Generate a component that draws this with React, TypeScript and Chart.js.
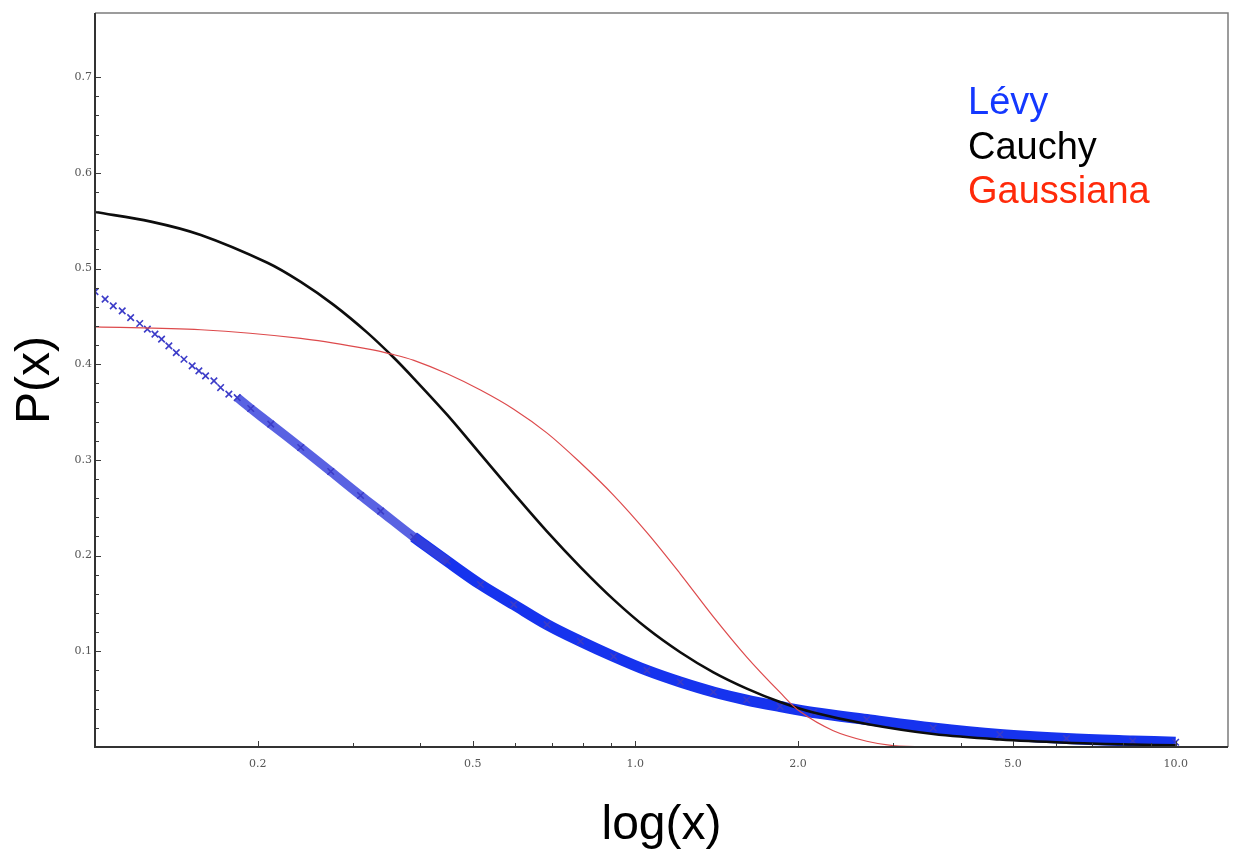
import React, { useEffect, useRef } from "react";
import { Chart, registerables } from "chart.js";

Chart.register(...registerables);

// Lévy (blue "x" markers)
const levyX = [
  0.1, 0.1044, 0.1081, 0.1123, 0.1164, 0.121, 0.125, 0.1291, 0.1328, 0.137,
  0.1414, 0.1461, 0.1513, 0.1557, 0.1602, 0.166, 0.1708, 0.1769, 0.1833, 0.1942,
  0.2115, 0.2403, 0.2731, 0.3101, 0.3378, 0.3888, 0.4487, 0.5169, 0.5956, 0.6867,
  0.7914, 0.9118, 1.051, 1.211, 1.395, 1.608, 1.853, 2.136, 2.681, 3.559,
  4.728, 6.281, 8.329, 10.0,
];
const levyY = [
  0.4759, 0.468, 0.461, 0.4557, 0.4487, 0.4425, 0.4366, 0.4314, 0.4262, 0.4191,
  0.4121, 0.4052, 0.3982, 0.393, 0.3878, 0.3826, 0.3756, 0.3687, 0.3651, 0.3537,
  0.3374, 0.313, 0.2879, 0.2628, 0.2465, 0.2195, 0.1941, 0.1698, 0.1488, 0.1279,
  0.1105, 0.0946, 0.08, 0.0679, 0.0575, 0.0491, 0.0423, 0.0361, 0.0287, 0.0199,
  0.0131, 0.0089, 0.0063, 0.005,
];

// Cauchy (black line)
const cauchyX = [
  0.1, 0.1269, 0.157, 0.2085, 0.2403, 0.2765, 0.3191, 0.357, 0.3892, 0.4487,
  0.5169, 0.5956, 0.6867, 0.7914, 0.9118, 1.051, 1.211, 1.395, 1.608, 1.853,
  2.136, 2.681, 3.559, 4.728, 6.281, 8.329, 10.0,
];
const cauchyY = [
  0.559, 0.549, 0.535, 0.506, 0.486, 0.462, 0.433, 0.407, 0.385, 0.347,
  0.306, 0.265, 0.225, 0.188, 0.154, 0.124, 0.099, 0.078, 0.061, 0.047,
  0.036, 0.024, 0.0135, 0.0078, 0.0045, 0.0026, 0.0018,
];

// Gaussiana (red line)
const gaussX = [
  0.1, 0.157, 0.2403, 0.3191, 0.357, 0.3892, 0.4487, 0.5169, 0.5956, 0.6867,
  0.7914, 0.9118, 1.051, 1.211, 1.395, 1.608, 1.853, 2.018, 2.325, 2.681,
  2.998, 3.5, 5.0,
];
const gaussY = [
  0.439, 0.436, 0.427, 0.416, 0.41, 0.404, 0.39, 0.373, 0.353, 0.328,
  0.297, 0.263, 0.224, 0.181, 0.136, 0.094, 0.057, 0.037, 0.017, 0.006,
  0.0015, 0.0002, 0.0,
];

const xMajorTicks = [0.2, 0.5, 1.0, 2.0, 5.0, 10.0];
const xMinorTicks = [0.3, 0.4, 0.6, 0.7, 0.8, 0.9, 3, 4, 6, 7, 8, 9];
const yMajorTicks = [0.1, 0.2, 0.3, 0.4, 0.5, 0.6, 0.7];
const yMinorTicks = [
  0.02, 0.04, 0.06, 0.08, 0.12, 0.14, 0.16, 0.18, 0.22, 0.24, 0.26, 0.28,
  0.32, 0.34, 0.36, 0.38, 0.42, 0.44, 0.46, 0.48, 0.52, 0.54, 0.56, 0.58,
  0.62, 0.64, 0.66, 0.68,
];

const legendLabels = ["Lévy", "Cauchy", "Gaussiana"];
const legendColors = ["#1438ff", "#000000", "#ff2a0a"];
const xTitle = "log(x)";
const yTitle = "P(x)";

const pts = (xs: number[], ys: number[]) => xs.map((x, i) => ({ x, y: ys[i] }));

const framePlugin = {
  id: "frameTicks",
  afterDatasetsDraw(chart: any) {
    const { ctx, chartArea: a, scales } = chart;
    const sx = scales.x;
    const sy = scales.y;
    ctx.save();
    ctx.strokeStyle = "#3a3a3a";
    ctx.lineWidth = 1;
    ctx.beginPath();
    const xt = (v: number, len: number) => {
      const p = Math.round(sx.getPixelForValue(v)) + 0.5;
      ctx.moveTo(p, a.bottom);
      ctx.lineTo(p, a.bottom - len);
    };
    const yt = (v: number, len: number) => {
      const p = Math.round(sy.getPixelForValue(v)) + 0.5;
      ctx.moveTo(a.left, p);
      ctx.lineTo(a.left + len, p);
    };
    xMajorTicks.forEach((v) => xt(v, 6));
    xMinorTicks.forEach((v) => xt(v, 4));
    yMajorTicks.forEach((v) => yt(v, 6));
    yMinorTicks.forEach((v) => yt(v, 4));
    ctx.stroke();

    ctx.strokeStyle = "#7c7c7c";
    ctx.lineWidth = 1.5;
    ctx.beginPath();
    ctx.moveTo(a.left, a.top);
    ctx.lineTo(a.right, a.top);
    ctx.lineTo(a.right, a.bottom);
    ctx.stroke();

    ctx.strokeStyle = "#333333";
    ctx.lineWidth = 2;
    ctx.beginPath();
    ctx.moveTo(a.left, a.top);
    ctx.lineTo(a.left, a.bottom);
    ctx.lineTo(a.right, a.bottom);
    ctx.stroke();
    ctx.restore();
  },
};

export default function App() {
  const ref = useRef<HTMLCanvasElement>(null);

  useEffect(() => {
    const levyPts = pts(levyX, levyY);
    const chart = new Chart(ref.current as HTMLCanvasElement, {
      type: "line",
      data: {
        datasets: [
          {
            label: "Gaussiana",
            data: pts(gaussX, gaussY),
            borderColor: "#dd4a4c",
            borderWidth: 1.2,
            pointRadius: 0,
            tension: 0.35,
            order: 0,
          },
          {
            label: "Cauchy",
            data: pts(cauchyX, cauchyY),
            borderColor: "#0d0d0d",
            borderWidth: 2.6,
            pointRadius: 0,
            tension: 0.35,
            order: 1,
          },
          {
            label: "Lévy",
            data: levyPts,
            showLine: false,
            pointStyle: "crossRot",
            pointRadius: 4.6,
            pointBorderWidth: 1.6,
            pointBorderColor: "#3c3cc8",
            pointBackgroundColor: "#3c3cc8",
            order: 2,
          },
          {
            label: "Lévy band mid",
            data: levyPts.filter((p) => p.x >= 0.18 && p.x <= 0.46),
            borderColor: "rgba(52,64,220,0.82)",
            borderWidth: 9,
            pointRadius: 0,
            tension: 0.35,
            order: 3,
          },
          {
            label: "Lévy band dense",
            data: levyPts.filter((p) => p.x >= 0.38),
            borderColor: "#1633ee",
            borderWidth: 11,
            pointRadius: 0,
            tension: 0.35,
            order: 4,
          },
        ],
      },
      options: {
        responsive: false,
        animation: false,
        events: [],
        layout: { padding: { left: 0, right: 10, top: 13, bottom: 0 } },
        plugins: { legend: { display: false }, tooltip: { enabled: false } },
        scales: {
          x: {
            type: "logarithmic",
            position: "bottom",
            min: 0.1,
            max: 12.5,
            bounds: "data",
            grid: { display: false, drawTicks: false },
            border: { display: false },
            ticks: {
              autoSkip: false,
              maxRotation: 0,
              padding: 11,
              color: "#555555",
              font: { family: '"DejaVu Serif", serif', size: 11 },
              callback: (v: any) => Number(v).toFixed(1),
            },
            afterBuildTicks: (s: any) => {
              s.ticks = xMajorTicks.map((v) => ({ value: v }));
            },
            afterFit: (s: any) => {
              s.height = 106;
            },
            title: {
              display: true,
              text: xTitle,
              color: "#000000",
              font: { family: '"Liberation Sans", Arial, sans-serif', size: 48, lineHeight: 1 },
              padding: { top: 0, bottom: 3 },
            },
          },
          y: {
            type: "linear",
            position: "left",
            min: 0,
            max: 0.767,
            grid: { display: false, drawTicks: false },
            border: { display: false },
            ticks: {
              padding: 3,
              color: "#555555",
              font: { family: '"DejaVu Serif", serif', size: 11 },
              callback: (v: any) => Number(v).toFixed(1),
            },
            afterBuildTicks: (s: any) => {
              s.ticks = yMajorTicks.map((v) => ({ value: v }));
            },
            afterFit: (s: any) => {
              s.width = 95;
            },
            title: {
              display: true,
              text: yTitle,
              color: "#000000",
              font: { family: '"Liberation Sans", Arial, sans-serif', size: 48, lineHeight: 1 },
              padding: { top: 12, bottom: 0 },
            },
          },
        },
      },
      plugins: [framePlugin],
    } as any);
    return () => chart.destroy();
  }, []);

  return (
    <div
      style={{
        position: "fixed",
        left: 0,
        top: 0,
        width: 1238,
        height: 853,
        background: "#ffffff",
        overflow: "hidden",
      }}
    >
      <canvas ref={ref} width={1238} height={853} style={{ display: "block", width: 1238, height: 853 }} />
      <div
        style={{
          position: "absolute",
          left: 968,
          top: 79,
          fontFamily: '"Liberation Sans", Arial, sans-serif',
          fontSize: 38,
          lineHeight: "44.5px",
          whiteSpace: "nowrap",
        }}
      >
        {legendLabels.map((t, i) => (
          <div key={t} style={{ color: legendColors[i] }}>
            {t}
          </div>
        ))}
      </div>
    </div>
  );
}
